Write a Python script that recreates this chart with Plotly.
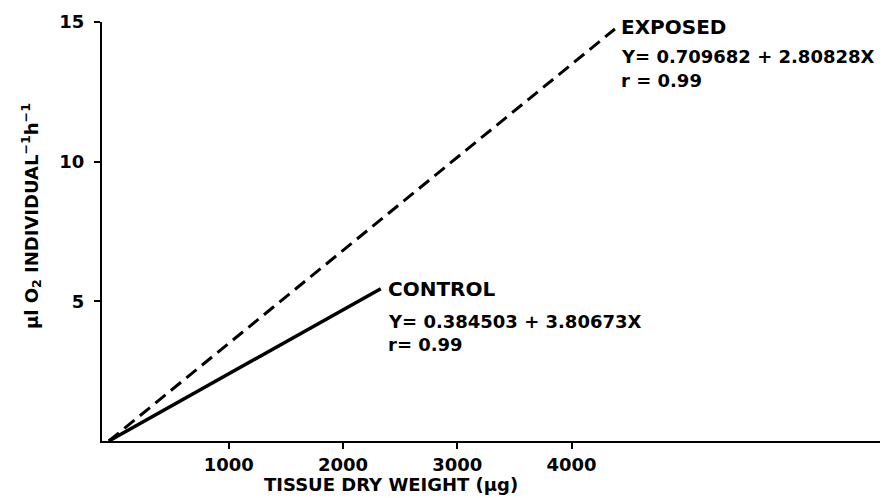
import plotly.graph_objects as go

# Data
exposed_x = [-50, 4380]
exposed_y = [0.0, 14.75]
control_x = [-50, 2330]
control_y = [0.0, 5.45]

x_ticks = [1000, 2000, 3000, 4000]
y_ticks = [5, 10, 15]

FONT = "DejaVu Sans"
L, R, T, B = 102, 880, 22, 441
W, H = 891, 498

fig = go.Figure()
fig.add_trace(go.Scatter(x=exposed_x, y=exposed_y, mode="lines",
                         line=dict(color="black", width=3, dash="13px,7px"),
                         showlegend=False, hoverinfo="skip"))
fig.add_trace(go.Scatter(x=control_x, y=control_y, mode="lines",
                         line=dict(color="black", width=3.5),
                         showlegend=False, hoverinfo="skip"))

tick_font = dict(family=FONT, size=18, color="black", weight="bold")

fig.update_layout(
    width=W, height=H,
    margin=dict(l=L, r=W - R, t=T, b=H - B),
    plot_bgcolor="white", paper_bgcolor="white",
    font=dict(family=FONT, color="black", size=17),
    xaxis=dict(range=[-110, 6700], tickvals=x_ticks,
               ticktext=[str(v) for v in x_ticks],
               showline=True, linecolor="black", linewidth=2,
               ticks="outside", ticklen=6, tickwidth=2, tickcolor="black",
               showgrid=False, zeroline=False, automargin=False,
               tickfont=tick_font),
    yaxis=dict(range=[0, 15], tickvals=y_ticks,
               ticktext=[str(v) for v in y_ticks],
               showline=True, linecolor="black", linewidth=2,
               ticks="outside", ticklen=6, tickwidth=2, tickcolor="black",
               showgrid=False, zeroline=False, automargin=False,
               ticklabelstandoff=6,
               tickfont=tick_font),
)

def px_to_paper(px, py):
    return (px - L) / (R - L), (B - py) / (B - T)

def ann(px, py, text, size, xanchor="left", angle=0):
    xp, yp = px_to_paper(px, py)
    fig.add_annotation(x=xp, y=yp, xref="paper", yref="paper", text=text,
                       showarrow=False, xanchor=xanchor, yanchor="middle",
                       textangle=angle,
                       font=dict(family=FONT, size=size, color="black",
                                 weight="bold"))

# Axis titles
ann(391, 484, "TISSUE DRY WEIGHT (μg)", 18, xanchor="center")
ann(31, 216, "μl O<sub>2</sub> INDIVIDUAL<sup>−1</sup>h<sup>−1</sup>", 18,
    xanchor="center", angle=-90)

# Line labels
for (px, py, t, s) in [
    (619, 27, "EXPOSED", 20),
    (619, 56, "Y= 0.709682 + 2.80828X", 18),
    (619, 80, "r = 0.99", 18),
    (386, 289, "CONTROL", 20),
    (386, 321, "Y= 0.384503 + 3.80673X", 18),
    (386, 344, "r= 0.99", 18),
]:
    ann(px, py, t, s)

fig.write_html(
    "out.html",
    config={"displayModeBar": False},
    post_script="document.body.style.margin='0';"
                "document.body.style.overflow='hidden';",
)
